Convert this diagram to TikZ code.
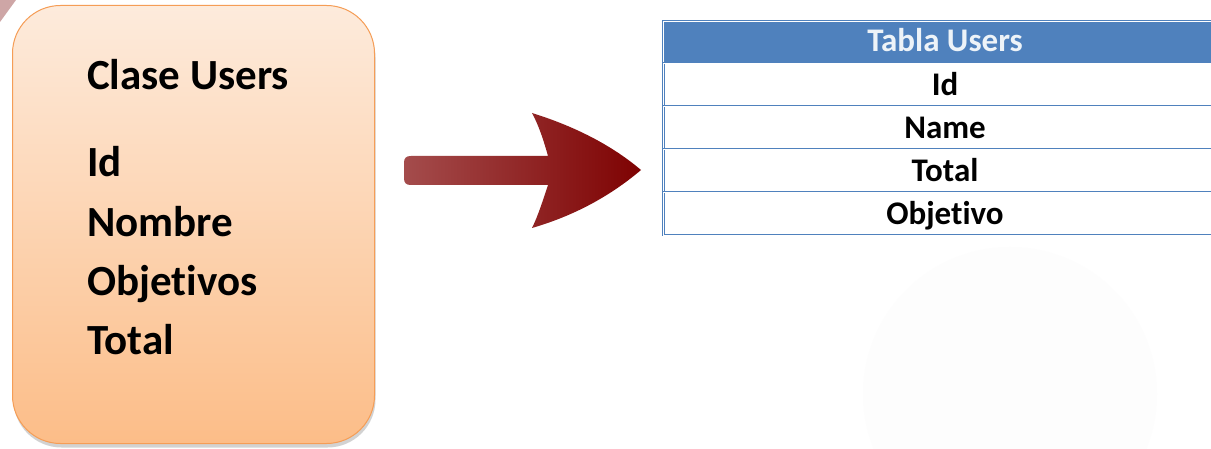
\documentclass[tikz,border=0pt]{standalone}
\usepackage{fontspec}
\setmainfont{Carlito}[Ligatures=NoCommon]
\usetikzlibrary{shadows,calc}
\definecolor{boxtop}{HTML}{FDEBDC}
\definecolor{boxbot}{HTML}{FCBD88}
\definecolor{boxline}{HTML}{F59D56}
\definecolor{tblue}{HTML}{4F81BD}
\definecolor{arrowL}{HTML}{A44C4C}
\definecolor{arrowR}{HTML}{7E0202}
\tikzset{
  classbox/.style={draw=boxline, line width=1pt, rounded corners=48pt,
    top color=boxtop, bottom color=boxbot,
    drop shadow={shadow xshift=1pt, shadow yshift=-4pt, fill=black!35, opacity=0.5}},
  boxtext/.style={font=\bfseries\fontsize{43}{46}\selectfont, anchor=base west, inner sep=0pt},
  cell/.style={draw=tblue, double=white, double distance=0.6pt, line width=0.8pt, fill=white},
  celltext/.style={font=\bfseries\fontsize{33}{36}\selectfont, anchor=base, inner sep=0pt},
}
\begin{document}
\begin{tikzpicture}[x=1pt,y=-1pt]
\useasboundingbox (0,0) rectangle (1211,449);
\fill[white] (0,0) rectangle (1211,449);
% faint background circle
\fill[black!0.6] (1010,394) circle (147);
% corner decoration
\fill[red!45!black!35!white] (0,0) -- (16,0) -- (0,22) -- cycle;
% class box
\node[classbox, minimum width=362pt, minimum height=438pt, anchor=north west] (cls) at (12,5) {};
\node[boxtext] (ctitle) at (87,90) {Clase Users};
\node[boxtext] (cid) at (87,177) {Id};
\node[boxtext] (cnom) at (87,237) {Nombre};
\node[boxtext] (cobj) at (87,295) {Objetivos};
\node[boxtext] (ctot) at (87,354) {Total};
% arrow
\coordinate (at) at (641,170);
\shade[left color=arrowL, right color=arrowR]
  (548,156) -- (411,156)
  .. controls (406,156) and (404,158) .. (404,163)
  -- (404,178)
  .. controls (404,183) and (406,185) .. (411,185)
  -- (548,185)
  .. controls (543,200) and (538,216) .. (532,228)
  .. controls (580,214) and (615,192) .. (at)
  .. controls (615,148) and (580,128) .. (532,113)
  .. controls (538,124) and (543,138) .. (548,156) -- cycle;
% table
\node[cell, fill=tblue, minimum width=560pt, minimum height=42pt, anchor=north west] (th) at (663,21) {};
\node[celltext, text=white!90!tblue] (tht) at (945,52) {Tabla Users};
\node[cell, minimum width=560pt, minimum height=43pt, anchor=north west] (r1) at (663,63) {};
\node[cell, minimum width=560pt, minimum height=43pt, anchor=north west] (r2) at (663,106) {};
\node[cell, minimum width=560pt, minimum height=43pt, anchor=north west] (r3) at (663,149) {};
\node[cell, minimum width=560pt, minimum height=43pt, anchor=north west] (r4) at (663,192) {};
\node[celltext] at (945,96) {Id};
\node[celltext] at (945,139) {Name};
\node[celltext] at (945,182) {Total};
\node[celltext] at (945,225) {Objetivo};
\end{tikzpicture}
\end{document}
